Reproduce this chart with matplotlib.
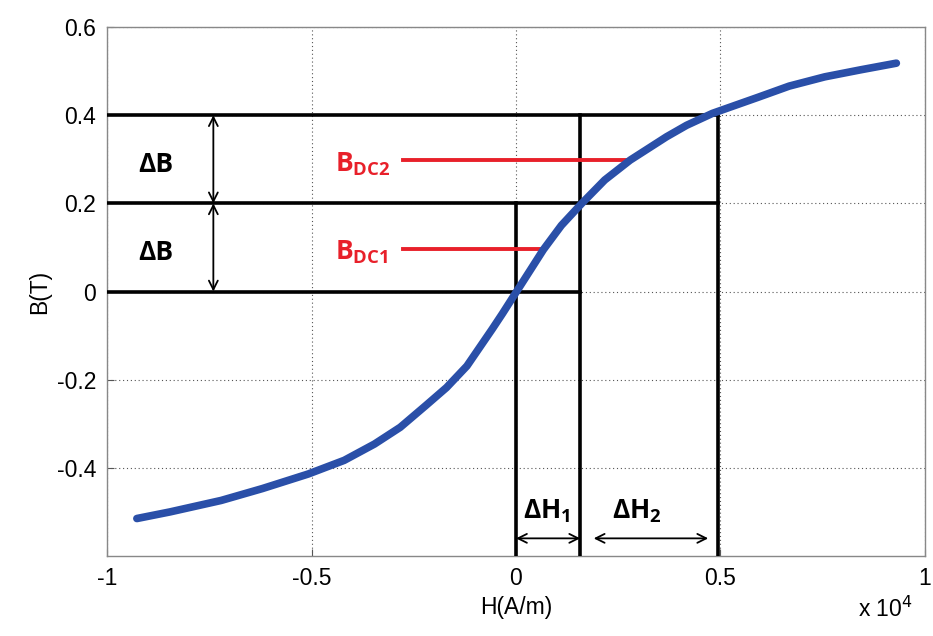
import matplotlib
matplotlib.use("Agg")
import matplotlib.pyplot as plt

plt.rcParams['font.family'] = ['Liberation Sans', 'DejaVu Sans']
plt.rcParams['mathtext.fontset'] = 'custom'
plt.rcParams['mathtext.bf'] = 'Open Sans:bold'
plt.rcParams['mathtext.rm'] = 'Open Sans'

# B-H curve (H in units of 1e4 A/m, B in T)
H = [-0.927, -0.846, -0.721, -0.620, -0.508, -0.420, -0.346, -0.283, -0.221, -0.170,
     -0.120, -0.089, -0.058, -0.033, -0.002, 0.036, 0.067, 0.111, 0.161, 0.217,
     0.279, 0.368, 0.417, 0.480, 0.593, 0.668, 0.755, 0.843, 0.930]
B = [-0.515, -0.500, -0.474, -0.447, -0.414, -0.383, -0.346, -0.308, -0.259, -0.218,
     -0.169, -0.127, -0.085, -0.050, -0.005, 0.050, 0.095, 0.150, 0.200, 0.253,
     0.298, 0.351, 0.377, 0.404, 0.441, 0.466, 0.487, 0.503, 0.518]

# operating-point construction lines
B_levels = [0.4, 0.2, 0.0]
H_levels = [0.495, 0.495, 0.157]
H_verticals = [0.0, 0.157, 0.495]
B_tops = [0.2, 0.4, 0.4]

# red DC bias markers
bdc_y = [0.298, 0.097]
bdc_x_end = [0.279, 0.061]
bdc_text_y = [0.272, 0.072]
bdc_labels = [r'$\mathbf{B}_{\mathbf{DC2}}$', r'$\mathbf{B}_{\mathbf{DC1}}$']

xticks = [-1, -0.5, 0, 0.5, 1]
xticklabels = ['-1', '-0.5', '0', '0.5', '1']
yticks = [-0.4, -0.2, 0, 0.2, 0.4, 0.6]
yticklabels = ['-0.4', '-0.2', '0', '0.2', '0.4', '0.6']

fig = plt.figure(figsize=(9.33, 6.36), dpi=100)
ax = fig.add_axes([0.1147, 0.1258, 0.8767, 0.8317])
ax.set_xlim(-1, 1)
ax.set_ylim(-0.6, 0.6)

ax.grid(True, linestyle=(0, (1, 2.5)), color='#555555', linewidth=0.8)
ax.set_axisbelow(True)

for y, xe in zip(B_levels, H_levels):
    ax.plot([-1, xe], [y, y], color='black', lw=2.6, solid_capstyle='projecting', zorder=3)
for x, yt in zip(H_verticals, B_tops):
    ax.plot([x, x], [-0.6, yt], color='black', lw=2.6, solid_capstyle='projecting', zorder=3)

for y, xe, ty, lab in zip(bdc_y, bdc_x_end, bdc_text_y, bdc_labels):
    ax.plot([-0.277, xe], [y, y], color='#e8202a', lw=2.8, zorder=4)
    ax.text(-0.442, ty, lab, color='#e8202a', fontsize=19, ha='left', va='baseline')

ax.plot(H, B, color='#2a4fa8', lw=5.5, solid_capstyle='round', solid_joinstyle='round', zorder=5)

arrowprops = dict(arrowstyle='<->', color='black', lw=1.3, mutation_scale=16, shrinkA=0, shrinkB=0)
ax.annotate('', xy=(-0.74, 0.4), xytext=(-0.74, 0.2), arrowprops=arrowprops, zorder=6)
ax.annotate('', xy=(-0.74, 0.2), xytext=(-0.74, 0.0), arrowprops=arrowprops, zorder=6)
ax.annotate('', xy=(0.0, -0.56), xytext=(0.157, -0.56), arrowprops=arrowprops, zorder=6)
ax.annotate('', xy=(0.19, -0.56), xytext=(0.47, -0.56), arrowprops=arrowprops, zorder=6)

for ty in [0.272, 0.072]:
    ax.text(-0.88, ty, 'ΔB', fontsize=19, ha='center', va='baseline',
            family='Open Sans', fontweight='bold')
ax.text(0.017, -0.515, r'$\mathbf{ΔH}_{\mathbf{1}}$', fontsize=19, ha='left', va='baseline')
ax.text(0.235, -0.515, r'$\mathbf{ΔH}_{\mathbf{2}}$', fontsize=19, ha='left', va='baseline')

ax.set_xticks(xticks)
ax.set_xticklabels(xticklabels)
ax.set_yticks(yticks)
ax.set_yticklabels(yticklabels)
ax.tick_params(direction='in', labelsize=16.5, length=5, color='#555555', pad=8)
for s in ax.spines.values():
    s.set_color('#888888')
    s.set_linewidth(1.0)

ax.set_xlabel('H(A/m)', fontsize=16.5, labelpad=4)
ax.set_ylabel('B(T)', fontsize=16.5, labelpad=4)

fig.text(0.978, 0.022, r'x 10$^{4}$', fontsize=16.5, ha='right', va='bottom',
         math_fontfamily='dejavusans')

fig.savefig('out.png', dpi=100, facecolor='white')
